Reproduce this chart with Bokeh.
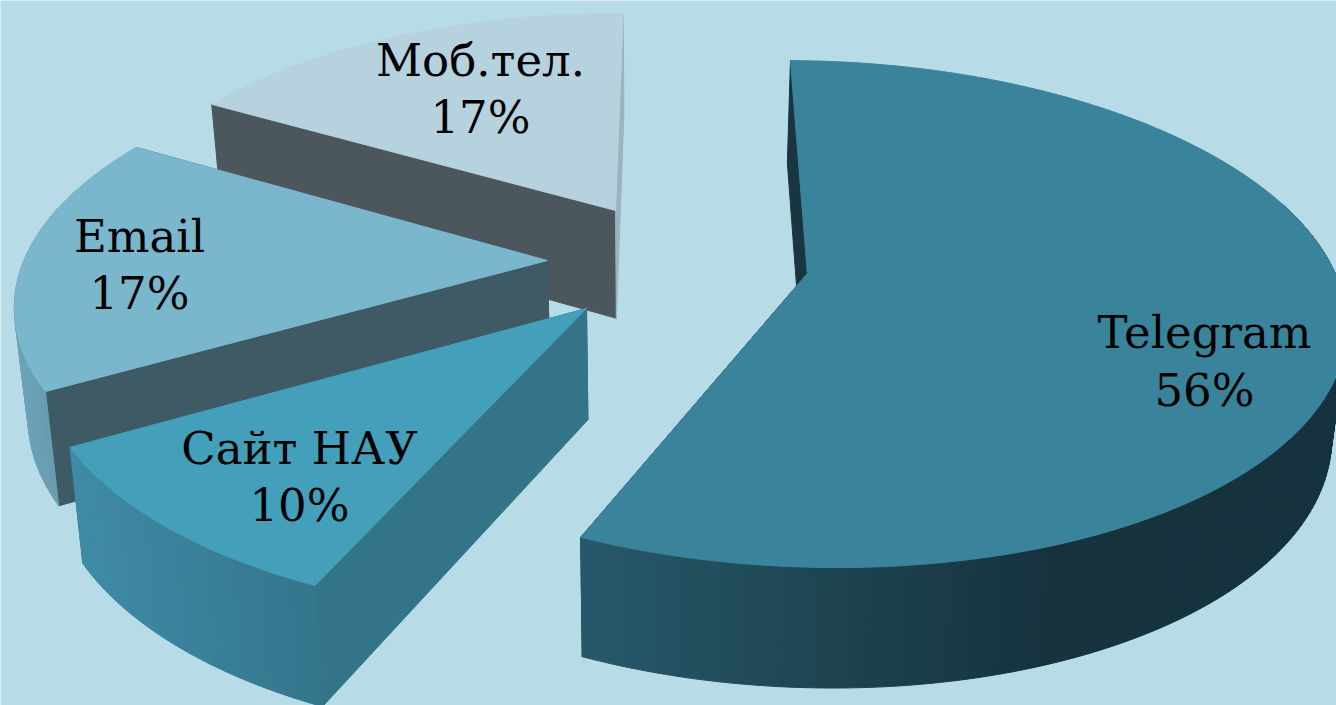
import numpy as np
from bokeh.plotting import figure
from bokeh.models import Range1d, ColumnDataSource
from bokeh.embed import file_html
from bokeh.resources import INLINE
from bokeh.core.properties import value

# data
categories = ["Telegram", "Сайт НАУ", "Email", "Моб.тел."]
shares = [56, 10, 17, 17]
top_colors = ["#39849b", "#439fba", "#7ab7cd", "#b5d2de"]
start_faces = ["#19353f", "#337488", "#3d5a65", "#4c565d"]
end_faces = ["#19353f", "#337488", "#3d5a65", "#9bb3bd"]
rim_from = ["#27596a", "#3f8ba6", "#6ea3b8", "#9bb3bd"]
rim_to = ["#16323d", "#33748a", "#6498ad", "#9bb3bd"]
BG = "#b7dce8"

# layout of the projected pie: explode x, explode y, start tweak, end tweak (deg), gradient x-range
CX, CY, FX, KY, PERSP, CONV = 650.0, 273.0, 528.0, 247.0, 0.16, 0.022
layout = {
    "Telegram": (0.297, 0.0, 0.6, 2.6, 578, 1050),
    "Сайт НАУ": (-0.1185, -0.1386, 2.6, 2.8, 70, 330),
    "Email": (-0.1967, 0.0529, 2.6, 1.4, 10, 60),
    "Моб.тел.": (-0.069, 0.266, 1.4, 0.4, 0, 1),
}
labels = {
    "Telegram": (1204, 332, 390),
    "Сайт НАУ": (299, 448, 505),
    "Email": (139, 236, 293),
    "Моб.тел.": (480, 60, 117),
}


def project(x, y):
    s = 1.0 / (1.0 + PERSP * y)
    return CX + FX * x * s, CY - KY * y * s, s


def lower(sx, sy, s):
    return sx + (CX - sx) * CONV, sy + 55 + 55 * s


def mix(a, b, t):
    ca = [int(a[i:i + 2], 16) for i in (1, 3, 5)]
    cb = [int(b[i:i + 2], 16) for i in (1, 3, 5)]
    return "#%02x%02x%02x" % tuple(int(round(u + (v - u) * t)) for u, v in zip(ca, cb))


p = figure(width=1336, height=705, output_backend="svg", toolbar_location=None,
           x_range=Range1d(0, 1336), y_range=Range1d(705, 0), min_border=0,
           background_fill_color=BG, border_fill_color=BG, outline_line_color=None)
p.axis.visible = False
p.grid.visible = False

total = sum(shares)
edges = np.cumsum([0] + shares) / total * 360.0
polys = []
order = [3, 2, 1, 0]
for i in order:
    name = categories[i]
    ex, ey, d0, d1, g0, g1 = layout[name]
    a0, a1 = np.radians(edges[i] + d0), np.radians(edges[i + 1] + d1)
    ang = np.linspace(a0, a1, int(max(12, (a1 - a0) * 60)))
    wx, wy = ex + np.sin(ang), ey + np.cos(ang)
    tx, ty, ts = project(wx, wy)
    bx, by = lower(tx, ty, ts)
    ax, ay, az = project(ex, ey)
    abx, aby = lower(ax, ay, az)
    # cut faces
    polys.append(([ax, tx[0], bx[0], abx], [ay, ty[0], by[0], aby], start_faces[i]))
    polys.append(([ax, tx[-1], bx[-1], abx], [ay, ty[-1], by[-1], aby], end_faces[i]))
    # outer wall: only the part that faces the viewer
    for k in range(len(ang) - 1):
        if np.cos((ang[k] + ang[k + 1]) / 2) > 0.3:
            continue
        t = np.clip(((tx[k] + tx[k + 1]) / 2 - g0) / (g1 - g0), 0, 1)
        polys.append(([tx[k], tx[k + 1], bx[k + 1], bx[k]], [ty[k], ty[k + 1], by[k + 1], by[k]],
                      mix(rim_from[i], rim_to[i], t)))
    # top
    polys.append(([ax] + list(tx), [ay] + list(ty), top_colors[i]))

src = ColumnDataSource(dict(xs=[q[0] for q in polys], ys=[q[1] for q in polys], c=[q[2] for q in polys]))
p.patches("xs", "ys", source=src, fill_color="c", line_color="c", line_width=1)

lx, ly, lt = [], [], []
for i, name in enumerate(categories):
    x, y1, y2 = labels[name]
    lx += [x, x]
    ly += [y1, y2]
    lt += [name, f"{shares[i]}%"]
p.text(lx, ly, text=lt, text_font=value("DejaVu Serif"), text_font_size="45px", text_color="#000000",
       text_align="center", text_baseline="middle")

open("out.html", "w").write(file_html(p, INLINE))
